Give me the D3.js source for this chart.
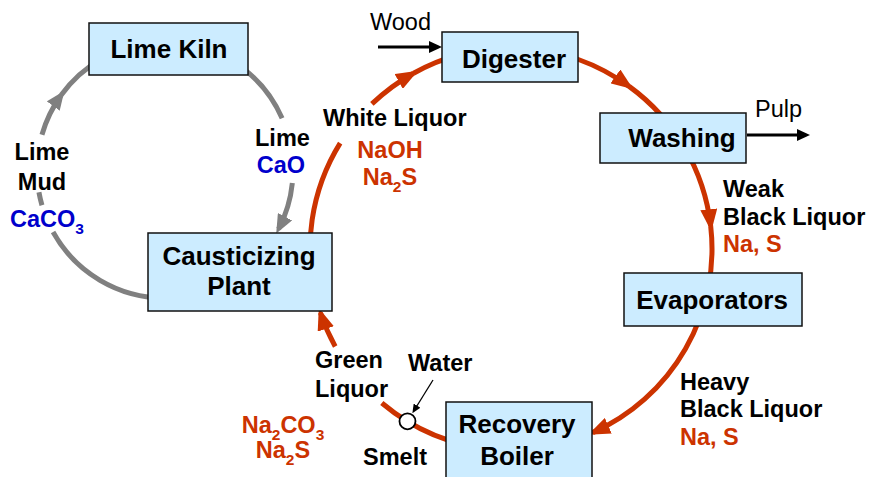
<!DOCTYPE html>
<html>
<head>
<meta charset="utf-8">
<script src="https://cdn.jsdelivr.net/npm/d3@7"></script>
<style>
  body { margin: 0; background: #fff; }
  text { font-family: "Liberation Sans", Arial, sans-serif; }
</style>
</head>
<body>
<div id="chart"></div>
<script>
// Kraft recovery cycle - labels
var boxNames = ["Lime Kiln", "Digester", "Washing", "Evaporators", "Causticizing\nPlant", "Recovery\nBoiler"];
var streamNames = ["White Liquor", "Weak\nBlack Liquor", "Heavy\nBlack Liquor", "Green\nLiquor", "Lime", "Lime\nMud", "Water", "Smelt"];
var chemNames = ["NaOH\nNa_2S", "Na, S", "Na, S", "Na_2CO_3\nNa_2S", "CaO", "CaCO_3"];
var chemKind = ["sodium", "sodium", "sodium", "sodium", "calcium", "calcium"];
var feedNames = ["Wood", "Pulp"];

// layout (pixels)
var width = 872, height = 477;
var boxLayout = [
  {x: 89, y: 23, w: 159, h: 52, tx: 169, ty: 58},
  {x: 442, y: 32, w: 136, h: 50, tx: 514, ty: 68},
  {x: 600, y: 113, w: 146, h: 50, tx: 682, ty: 147},
  {x: 624, y: 273, w: 178, h: 53, tx: 712, ty: 309},
  {x: 148, y: 233, w: 184, h: 78, tx: 239, ty: 265, lh: 30},
  {x: 446, y: 402, w: 146, h: 95, tx: 517, ty: 433, lh: 32}
];
var streamLayout = [
  {x: 323, y: 126, a: "start"},
  {x: 723, y: 197, a: "start", lh: 28},
  {x: 680, y: 390, a: "start", lh: 27},
  {x: 315, y: 368, a: "start", lh: 29},
  {x: 255, y: 146, a: "start"},
  {x: 42, y: 160, a: "middle", lh: 30},
  {x: 408, y: 371, a: "start"},
  {x: 363, y: 465, a: "start"}
];
var chemLayout = [
  {x: 390, y: 158, a: "middle", lh: 27},
  {x: 723, y: 252, a: "start"},
  {x: 680, y: 445, a: "start"},
  {x: 283, y: 433, a: "middle", lh: 25},
  {x: 281, y: 173, a: "middle"},
  {x: 47, y: 227, a: "middle"}
];
var feedLayout = [{x: 370, y: 30}, {x: 755, y: 117}];

// circles of the two loops and their visible arc pieces (degrees, clockwise)
var sodaLoop = {x: 511, y: 249, r: 201};
var limeLoop = {x: 165, y: 170, r: 128};
var sodaArcs = [[165, 211.8, 0], [226.2, 241, 1], [241, 306, 1], [306, 353.5, 1], [353.5, 426, 1], [95, 130, 0], [151, 161.5, 1]];
var limeArcs = [[300, 336.2, 0], [5.8, 27.5, 1], [90, 151, 0], [164, 170, 0], [196, 216, 1], [216, 240, 0]];

var red = "#CC3300", blue = "#0000CC", grey = "#808080";
var colorOf = d3.scaleOrdinal().domain(["sodium", "calcium"]).range([red, blue]);
var angle = d3.scaleLinear().domain([0, 360]).range([0, 2 * Math.PI]);

var svg = d3.select("#chart").append("svg")
  .attr("width", width)
  .attr("height", height);

var defs = svg.append("defs");
function arrowMarker(id, color, len, half) {
  defs.append("marker")
    .attr("id", id)
    .attr("markerUnits", "userSpaceOnUse")
    .attr("viewBox", "0 " + (-half) + " " + len + " " + (2 * half))
    .attr("markerWidth", len)
    .attr("markerHeight", 2 * half)
    .attr("refX", len - 5)
    .attr("refY", 0)
    .attr("orient", "auto")
    .append("path")
    .attr("d", "M0," + (-half) + "L" + len + ",0L0," + half + "Z")
    .attr("fill", color);
}
arrowMarker("redHead", red, 22, 8.5);
arrowMarker("greyHead", grey, 19, 8);
arrowMarker("blackHead", "#000", 13, 6);
arrowMarker("thinHead", "#000", 9, 4);

function arcD(c, a0, a1) {
  var p = d3.path();
  var s = angle(a0), e = angle(a1);
  p.moveTo(c.x + c.r * Math.cos(s), c.y + c.r * Math.sin(s));
  p.arc(c.x, c.y, c.r, s, e, false);
  return p.toString();
}

svg.append("g").selectAll("path")
  .data(sodaArcs)
  .enter()
  .append("path")
  .attr("d", d => arcD(sodaLoop, d[0], d[1]))
  .attr("fill", "none")
  .attr("stroke", red)
  .attr("stroke-width", 5)
  .attr("marker-end", d => d[2] ? "url(#redHead)" : null);

svg.append("g").selectAll("path")
  .data(limeArcs)
  .enter()
  .append("path")
  .attr("d", d => arcD(limeLoop, d[0], d[1]))
  .attr("fill", "none")
  .attr("stroke", grey)
  .attr("stroke-width", 5)
  .attr("marker-end", d => d[2] ? "url(#greyHead)" : null);

// feed arrows
var feedArrows = [[378, 47, 437, 47], [747, 135, 805, 135]];
svg.append("g").selectAll("line")
  .data(feedArrows)
  .enter()
  .append("line")
  .attr("x1", d => d[0]).attr("y1", d => d[1])
  .attr("x2", d => d[2]).attr("y2", d => d[3])
  .attr("stroke", "#000")
  .attr("stroke-width", 3)
  .attr("marker-end", "url(#blackHead)");

// water arrow + smelt node
svg.append("line")
  .attr("x1", 433).attr("y1", 380)
  .attr("x2", 415).attr("y2", 409)
  .attr("stroke", "#000")
  .attr("stroke-width", 1.3)
  .attr("marker-end", "url(#thinHead)");

var smeltAngle = angle(121);
svg.append("circle")
  .attr("cx", sodaLoop.x + sodaLoop.r * Math.cos(smeltAngle))
  .attr("cy", sodaLoop.y + sodaLoop.r * Math.sin(smeltAngle))
  .attr("r", 8)
  .attr("fill", "#fff")
  .attr("stroke", "#000")
  .attr("stroke-width", 1.8);

// boxes
var boxes = svg.append("g").selectAll("g")
  .data(boxNames)
  .enter()
  .append("g");

boxes.append("rect")
  .attr("x", (d, i) => boxLayout[i].x)
  .attr("y", (d, i) => boxLayout[i].y)
  .attr("width", (d, i) => boxLayout[i].w)
  .attr("height", (d, i) => boxLayout[i].h)
  .attr("fill", "#CCECFF")
  .attr("stroke", "#111")
  .attr("stroke-width", 1.5);

// writes a (possibly multi-line, subscripted) label
function writeLabel(sel, label, lay, opts) {
  var t = sel.append("text")
    .attr("text-anchor", lay.a || "middle")
    .attr("font-size", opts.size)
    .attr("font-weight", opts.weight)
    .attr("fill", opts.color);
  label.split("\n").forEach(function(line, li) {
    var parts = line.split(/_(\d)/);
    parts.forEach(function(part, pi) {
      if (part === "") return;
      var ts = t.append("tspan").text(part);
      if (pi === 0) {
        ts.attr("x", lay.x).attr("y", lay.y + li * (lay.lh || 0));
      }
      if (pi % 2 === 1) {
        ts.attr("font-size", opts.size * 0.66).attr("dy", 7);
      } else if (pi > 0) {
        ts.attr("dy", -7);
      }
    });
  });
  return t;
}

boxNames.forEach(function(name, i) {
  var b = boxLayout[i];
  writeLabel(svg, name, {x: b.tx, y: b.ty, a: "middle", lh: b.lh}, {size: 26, weight: "bold", color: "#000"});
});

streamNames.forEach(function(name, i) {
  writeLabel(svg, name, streamLayout[i], {size: 23.5, weight: "bold", color: "#000"});
});

chemNames.forEach(function(name, i) {
  writeLabel(svg, name, chemLayout[i], {size: 23.5, weight: "bold", color: colorOf(chemKind[i])});
});

feedNames.forEach(function(name, i) {
  writeLabel(svg, name, {x: feedLayout[i].x, y: feedLayout[i].y, a: "start"}, {size: 23.5, weight: "normal", color: "#000"});
});
</script>
</body>
</html>
